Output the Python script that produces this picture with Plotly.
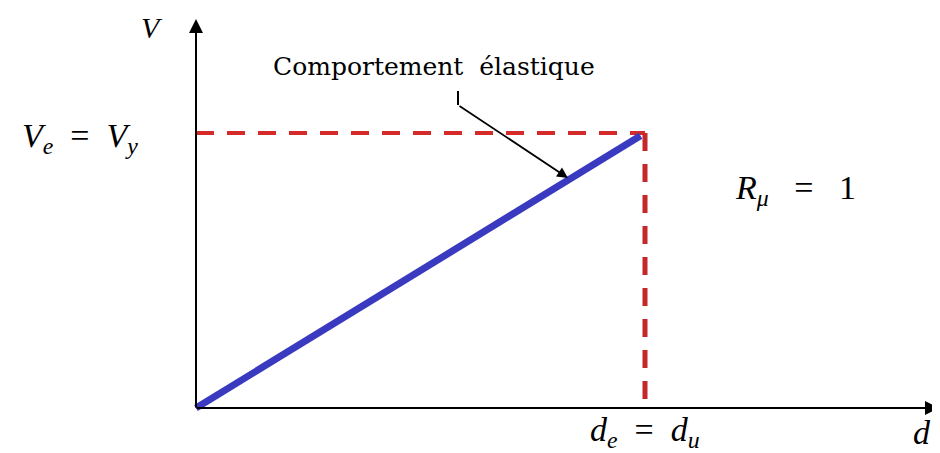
import plotly.graph_objects as go

# data (normalised: d_e = 1, V_e = 1)
d_elastic = [0.0, 0.99]
V_elastic = [0.0, 0.99]
d_yield_h = [0.0, 1.0]
V_yield_h = [1.0, 1.0]
d_yield_v = [1.0, 1.0]
V_yield_v = [1.0, 0.0]

# screen-pixel helpers (page body has an 8px margin)
OFF = 8
X0, Y0, SX, SY = 196, 408, 449, 275
def xr(px): return (px - X0) / SX
def yr(py): return (Y0 - py) / SY

fig = go.Figure()
fig.add_trace(go.Scatter(x=d_yield_h, y=V_yield_h, mode="lines",
                         line=dict(color="#d42a2a", width=4, dash="18px,13px")))
fig.add_trace(go.Scatter(x=d_yield_v, y=V_yield_v, mode="lines",
                         line=dict(color="#c42828", width=5, dash="18px,13px")))
fig.add_trace(go.Scatter(x=d_elastic, y=V_elastic, mode="lines",
                         line=dict(color="#3a3ac0", width=7)))

serif = "Liberation Serif, Times New Roman, serif"
ann = []
ann.append(dict(x=xr(939), y=0, ax=xr(195), ay=0, xref="x", yref="y", axref="x", ayref="y",
                showarrow=True, arrowhead=2, arrowsize=1.4, arrowwidth=2, arrowcolor="black", text=""))
ann.append(dict(x=0, y=yr(19), ax=0, ay=yr(409), xref="x", yref="y", axref="x", ayref="y",
                showarrow=True, arrowhead=2, arrowsize=1.4, arrowwidth=2, arrowcolor="black", text=""))
ann.append(dict(x=xr(568), y=yr(178), ax=xr(458), ay=yr(105), xref="x", yref="y", axref="x", ayref="y",
                showarrow=True, arrowhead=2, arrowsize=1.2, arrowwidth=1.8, arrowcolor="black", text=""))

def txt(px, py, s, size):
    ann.append(dict(x=xr(px), y=yr(py), xref="x", yref="y", text=s, showarrow=False,
                    font=dict(family=serif, size=size, color="black"), xanchor="center", yanchor="middle"))

txt(152, 27, "<i>V</i>", 30)
txt(80, 138, "<i>V</i><sub><i>e</i></sub>  =  <i>V</i><sub><i>y</i></sub>", 34)
txt(795, 190, "<i>R</i><sub><i>μ</i></sub>   =   1", 34)
txt(645, 432, "<i>d</i><sub><i>e</i></sub>  =  <i>d</i><sub><i>u</i></sub>", 34)
txt(922, 432, "<i>d</i>", 34)
ann.append(dict(x=xr(434), y=yr(66), xref="x", yref="y", text="Comportement  élastique",
                showarrow=False, font=dict(family="DejaVu Serif", size=25, color="black"),
                xanchor="center", yanchor="middle"))

fig.update_layout(
    width=940 - OFF, height=453 - OFF, margin=dict(l=0, r=0, t=0, b=0),
    paper_bgcolor="white", plot_bgcolor="white", showlegend=False,
    xaxis=dict(range=[xr(OFF), xr(940)], visible=False, fixedrange=True),
    yaxis=dict(range=[yr(453), yr(OFF)], visible=False, fixedrange=True),
    annotations=ann,
    shapes=[dict(type="line", xref="x", yref="y", x0=xr(458), y0=yr(91), x1=xr(458), y1=yr(105),
                 line=dict(color="black", width=2))],
)
fig.write_html("out.html")
